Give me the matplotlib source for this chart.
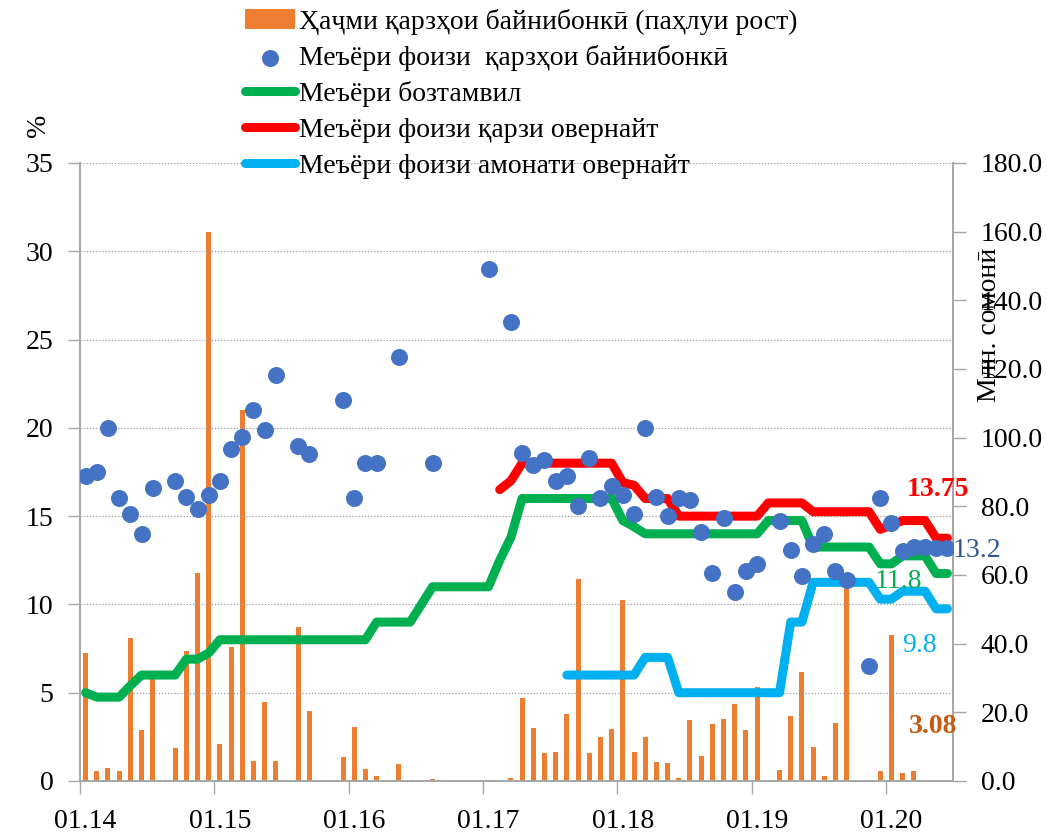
import numpy as np
import matplotlib
matplotlib.use("Agg")
import matplotlib.pyplot as plt

plt.rcParams['font.family'] = ['Liberation Serif', 'DejaVu Serif']

nan = np.nan
# 78 monthly observations, Jan 2014 .. Jun 2020
year_labels = ['01.14', '01.15', '01.16', '01.17', '01.18', '01.19', '01.20']

volume = [37.4, 3.0, 3.9, 2.9, 41.6, 14.9, 32.0, 0, 9.5, 38.0, 60.5, 160.0,
          10.8, 39.1, 108.0, 5.9, 23.0, 5.9, 0, 44.9, 20.4, 0, 0, 7.0,
          15.8, 3.5, 1.5, 0, 4.9, 0, 0, 0.6, 0, 0, 0, 0,
          0.3, 0, 0.9, 24.1, 15.4, 8.1, 8.4, 19.4, 58.9, 8.1, 12.9, 15.1,
          52.7, 8.4, 12.9, 5.4, 5.1, 0.9, 17.8, 7.3, 16.6, 18.0, 22.4, 14.9,
          27.3, 0, 3.2, 18.9, 31.7, 10.0, 1.5, 16.8, 56.8, 0, 0.2, 3.0,
          42.4, 2.4, 3.0, nan, nan, nan]

interbank_rate = [17.3, 17.5, 20.0, 16.0, 15.1, 14.0, 16.6, nan, 17.0, 16.1, 15.4, 16.2,
                  17.0, 18.8, 19.5, 21.0, 19.9, 23.0, nan, 19.0, 18.5, nan, nan, 21.6,
                  16.0, 18.0, 18.0, nan, 24.0, nan, nan, 18.0, nan, nan, nan, nan,
                  29.0, nan, 26.0, 18.6, 17.9, 18.2, 17.0, 17.3, 15.6, 18.3, 16.0, 16.7,
                  16.2, 15.1, 20.0, 16.1, 15.0, 16.0, 15.9, 14.1, 11.8, 14.9, 10.7, 11.9,
                  12.3, nan, 14.7, 13.1, 11.6, 13.4, 14.0, 11.9, 11.4, nan, 6.5, 16.0,
                  14.6, 13.0, 13.25, 13.25, 13.2, 13.2]

refinancing = [5.0, 4.75, 4.75, 4.75, 5.4, 6.0, 6.0, 6.0, 6.0, 6.9, 6.9, 7.25,
               8.0, 8.0, 8.0, 8.0, 8.0, 8.0, 8.0, 8.0, 8.0, 8.0, 8.0, 8.0,
               8.0, 8.0, 9.0, 9.0, 9.0, 9.0, 10.0, 11.0, 11.0, 11.0, 11.0, 11.0,
               11.0, 12.5, 13.8, 16.0, 16.0, 16.0, 16.0, 16.0, 16.0, 16.0, 16.0, 16.0,
               14.75, 14.4, 14.0, 14.0, 14.0, 14.0, 14.0, 14.0, 14.0, 14.0, 14.0, 14.0,
               14.0, 14.75, 14.75, 14.75, 14.75, 13.25, 13.25, 13.25, 13.25, 13.25, 13.25, 12.3,
               12.3, 12.75, 12.75, 12.75, 11.75, 11.75]

overnight_loan = [nan] * 37 + [16.5, 17.0, 18.0, 18.0, 18.0, 18.0, 18.0, 18.0, 18.0, 18.0, 18.0,
                               16.9, 16.75, 16.0, 16.0, 16.0, 15.0, 15.0, 15.0, 15.0, 15.0, 15.0, 15.0,
                               15.0, 15.75, 15.75, 15.75, 15.75, 15.25, 15.25, 15.25, 15.25, 15.25, 15.25, 14.25,
                               14.5, 14.75, 14.75, 14.75, 13.75, 13.75]

overnight_deposit = [nan] * 43 + [6.0, 6.0, 6.0, 6.0, 6.0,
                                  6.0, 6.0, 7.0, 7.0, 7.0, 5.0, 5.0, 5.0, 5.0, 5.0, 5.0, 5.0,
                                  5.0, 5.0, 5.0, 9.0, 9.0, 11.25, 11.25, 11.25, 11.25, 11.25, 11.25, 10.3,
                                  10.3, 10.75, 10.75, 10.75, 9.75, 9.75]

legend_labels = ['Ҳаҷми қарзҳои байнибонкӣ (паҳлуи рост)',
                 'Меъёри фоизи  қарзҳои байнибонкӣ',
                 'Меъёри бозтамвил',
                 'Меъёри фоизи қарзи овернайт',
                 'Меъёри фоизи амонати овернайт']

C_BAR = '#ED7D31'
C_DOT = '#4472C4'
C_GREEN = '#00B050'
C_RED = '#FF0000'
C_BLUE = '#00B0F0'
C_AX = '#A6A6A6'

x = np.arange(len(refinancing))

fig = plt.figure(figsize=(10.46, 8.33), dpi=100)
ax = fig.add_axes([80/1046, 52/833, 873/1046, 618/833])
ax2 = ax.twinx()
ax.set_zorder(ax2.get_zorder() + 1)
ax.patch.set_visible(False)

FS = 20

# bars on right axis
bars = ax2.bar(x, volume, width=0.45, color=C_BAR, label=legend_labels[0])
ax2.set_ylim(0, 180)
ax2.set_yticks(np.arange(0, 181, 20))
ax2.set_yticklabels([f'{v:.1f}' for v in np.arange(0, 181, 20)], fontsize=FS)
ax2.tick_params(axis='y', length=9, width=1, color=C_AX, pad=11)

lw = 6.5
ax.scatter(x, interbank_rate, s=150, color=C_DOT, zorder=5, label=legend_labels[1], linewidths=0)
ax.plot(x, refinancing, color=C_GREEN, lw=lw, solid_capstyle='round', solid_joinstyle='round', zorder=3, label=legend_labels[2])
ax.plot(x, overnight_loan, color=C_RED, lw=lw, solid_capstyle='round', solid_joinstyle='round', zorder=3, label=legend_labels[3])
ax.plot(x, overnight_deposit, color=C_BLUE, lw=lw, solid_capstyle='round', solid_joinstyle='round', zorder=3, label=legend_labels[4])

ax.set_ylim(0, 35)
ax.set_yticks(np.arange(0, 36, 5))
ax.set_yticklabels([str(v) for v in range(0, 36, 5)], fontsize=FS)
ax.tick_params(axis='y', length=9, width=1, color=C_AX, pad=10)
ax.grid(axis='y', linestyle=(0, (1, 1.5)), color='#9a9a9a', lw=0.9)
ax.set_xlim(-0.5, len(x) - 0.5)

year_pos = np.arange(0, len(x), 12)
ax.set_xticks(year_pos)
ax.set_xticklabels(year_labels, fontsize=FS)
ax.tick_params(axis='x', which='major', length=0, pad=20)
ax.set_xticks(year_pos - 0.5, minor=True)
ax.tick_params(axis='x', which='minor', length=9, width=1, color=C_AX)

for a in (ax, ax2):
    a.spines['top'].set_visible(False)
    for s in ('left', 'right', 'bottom'):
        a.spines[s].set_color(C_AX)
        a.spines[s].set_linewidth(1.2)

# end labels
ax.text(76.2, 16.5, '13.75', color=C_RED, fontsize=FS, fontweight='bold', ha='center', va='center')
ax.text(77.45, 13.05, '13.2', color='#2F5597', fontsize=FS, ha='left', va='center')
ax.text(72.6, 11.29, '11.8', color=C_GREEN, fontsize=FS, ha='center', va='center')
ax.text(74.5, 7.7, '9.8', color=C_BLUE, fontsize=FS, ha='center', va='center')
ax.text(75.7, 3.11, '3.08', color='#C55A11', fontsize=FS, fontweight='bold', ha='center', va='center')

fig.text(38/1046, 1 - 125/833, '%', rotation=90, fontsize=FS, ha='center', va='center')
fig.text(989/1046, 1 - 325/833, 'Млн. сомонӣ', rotation=90, fontsize=FS, ha='center', va='center')

handles = [bars] + ax.get_legend_handles_labels()[0]
fig.legend(handles, legend_labels, loc='upper left', bbox_to_anchor=(0.2155, 1.013),
           frameon=False, fontsize=FS, handlelength=1.8, handletextpad=0.15,
           labelspacing=0.37, scatterpoints=1, borderpad=0.2)

fig.savefig('out.png', dpi=100)
